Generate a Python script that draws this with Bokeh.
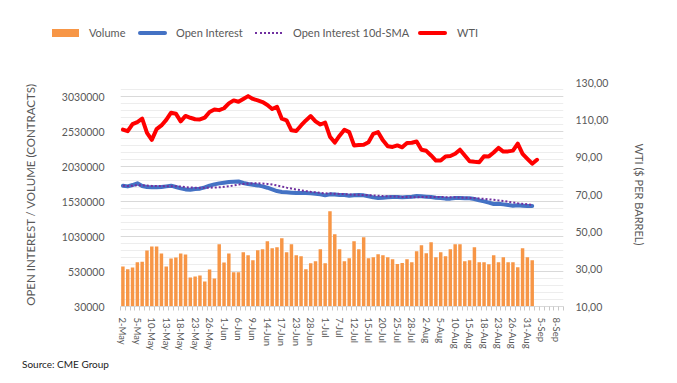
import pandas as pd
from bokeh.plotting import figure
from bokeh.layouts import column
from bokeh.models import (Range1d, LinearAxis, FixedTicker, NumeralTickFormatter,
                          ColumnDataSource, Div)
from bokeh.embed import file_html
from bokeh.resources import INLINE

# ---------------- data ----------------
days = pd.bdate_range("2022-05-02", "2022-09-09")
days = days.drop(pd.to_datetime(["2022-05-30", "2022-06-20", "2022-07-04"]))
dates = [f"{d.day}-{d.strftime('%b')}" for d in days]

volume = [600000, 562000, 586000, 662000, 671000, 829000, 886000, 886000, 786000, 600000,
          715000, 729000, 786000, 772000, 444000, 458000, 472000, 387000, 558000, 429000,
          919000, 658000, 786000, 519000, 519000, 805000, 762000, 690000, 833000, 847000,
          961000, 862000, 876000, 1004000, 805000, 919000, 762000, 747000, 562000, 648000,
          676000, 847000, 648000, 1389000, 1061000, 847000, 676000, 719000, 961000, 847000,
          1019000, 719000, 733000, 776000, 762000, 733000, 705000, 638000, 652000, 705000,
          662000, 819000, 904000, 790000, 947000, 733000, 805000, 747000, 847000, 919000,
          919000, 676000, 690000, 876000, 662000, 662000, 633000, 762000, 662000, 733000,
          662000, 662000, 591000, 862000, 733000, 690000]

open_interest = [1756000, 1746000, 1765000, 1789000, 1751000, 1737000, 1732000, 1732000, 1737000, 1746000,
                 1756000, 1737000, 1718000, 1703000, 1699000, 1708000, 1713000, 1732000, 1756000, 1775000,
                 1789000, 1799000, 1808000, 1813000, 1817000, 1794000, 1779000, 1770000, 1760000, 1746000,
                 1727000, 1703000, 1679000, 1665000, 1661000, 1656000, 1651000, 1651000, 1651000, 1646000,
                 1642000, 1632000, 1618000, 1632000, 1630000, 1622000, 1622000, 1613000, 1618000, 1622000,
                 1618000, 1604000, 1589000, 1580000, 1585000, 1589000, 1594000, 1594000, 1589000, 1594000,
                 1599000, 1608000, 1604000, 1599000, 1594000, 1585000, 1580000, 1571000, 1571000, 1580000,
                 1580000, 1578000, 1575000, 1565000, 1546000, 1532000, 1514000, 1494000, 1499000, 1489000,
                 1480000, 1470000, 1475000, 1470000, 1465000, 1465000]

oi_sma10 = [1756000, 1751000, 1756000, 1764000, 1761000, 1757000, 1753000, 1751000, 1750000, 1749000,
            1749000, 1748000, 1744000, 1735000, 1730000, 1727000, 1725000, 1725000, 1727000, 1730000,
            1733000, 1739000, 1748000, 1759000, 1771000, 1780000, 1786000, 1790000, 1790000, 1788000,
            1781000, 1772000, 1759000, 1744000, 1728000, 1715000, 1702000, 1690000, 1679000, 1669000,
            1661000, 1653000, 1647000, 1644000, 1641000, 1638000, 1635000, 1631000, 1628000, 1625000,
            1623000, 1620000, 1617000, 1612000, 1607000, 1604000, 1601000, 1599000, 1596000, 1594000,
            1592000, 1592000, 1594000, 1596000, 1596000, 1596000, 1595000, 1592000, 1591000, 1589000,
            1587000, 1584000, 1581000, 1578000, 1573000, 1568000, 1561000, 1554000, 1546000, 1537000,
            1527000, 1516000, 1506000, 1497000, 1489000, 1482000]

wti = [104.8, 103.9, 107.7, 108.8, 110.6, 103.0, 99.3, 105.0, 107.0, 110.0,
       113.8, 113.3, 109.2, 112.1, 111.1, 110.3, 110.2, 111.2, 114.2, 115.5,
       115.2, 116.2, 118.8, 120.4, 119.7, 121.2, 122.7, 121.2, 120.4, 119.5,
       118.0, 115.8, 117.0, 110.6, 109.7, 104.4, 104.0, 107.0, 109.7, 112.0,
       109.2, 107.5, 108.5, 101.0, 97.8, 101.5, 104.7, 103.4, 96.3, 96.5,
       96.6, 98.0, 102.5, 103.4, 99.0, 95.8, 95.5, 96.3, 95.3, 97.6,
       97.7, 98.4, 94.0, 93.4, 90.9, 88.2, 88.2, 90.4, 90.6, 91.8,
       94.0, 90.9, 87.8, 87.5, 87.3, 90.5, 90.4, 92.5, 95.0, 93.0,
       93.1, 93.5, 97.2, 91.8, 89.1, 86.5, 88.6]

left_ticks = [30000, 530000, 1030000, 1530000, 2030000, 2530000, 3030000]
left_minor = list(range(30000, 3230001, 100000))
right_ticks = [10, 30, 50, 70, 90, 110, 130]
x_tick_idx = list(range(0, len(dates), 3))

series_names = ["Volume", "Open Interest", "Open Interest 10d-SMA", "WTI"]

# ---------------- styles ----------------
FONT = "Lato"
GRAY = "#595959"
C_VOL, C_OI, C_SMA, C_WTI = "#F79646", "#4472C4", "#7030A0", "#FF0000"

# ---------------- legend strip (HTML) ----------------
swatch_css = [
    f"left:52px;top:29px;width:27px;height:8px;background:{C_VOL};",
    f"left:138px;top:31px;width:29px;height:4px;border-radius:2px;background:{C_OI};",
    f"left:255px;top:32px;width:27px;height:0;border-top:2px dotted {C_SMA};",
    f"left:418px;top:31px;width:29px;height:4px;border-radius:2px;background:{C_WTI};",
]
label_left = [89, 176, 293, 457]
parts = []
for name, sw, lx in zip(series_names, swatch_css, label_left):
    parts.append(f'<span style="position:absolute;{sw}"></span>')
    parts.append(f'<span style="position:absolute;left:{lx}px;top:26px;line-height:14px;'
                 f'white-space:nowrap;">{name}</span>')
legend_html = ('<div style="position:relative;width:677px;height:50px;font-family:Lato;'
               f'font-size:11px;color:{GRAY};">' + "".join(parts) + "</div>")
hdr = Div(text=legend_html, width=677, height=50, margin=(0, 0, 0, 0))

# ---------------- main chart ----------------
p = figure(width=677, height=306, output_backend="svg", toolbar_location=None,
           x_range=Range1d(-0.5, len(dates) - 0.5), y_range=Range1d(30000, 3230000),
           min_border_left=120, min_border_right=114, min_border_top=32, min_border_bottom=50)
p.outline_line_color = None
p.extra_y_ranges = {"wti": Range1d(10, 130)}

src_oi = ColumnDataSource(dict(x=list(range(len(volume))), volume=volume,
                               oi=open_interest, sma=oi_sma10))
src_wti = ColumnDataSource(dict(x=list(range(len(wti))), wti=wti))

p.vbar(x="x", top="volume", bottom=30000, width=0.72, source=src_oi,
       fill_color=C_VOL, line_color=None)
p.line("x", "oi", source=src_oi, line_color=C_OI, line_width=4,
       line_join="round", line_cap="round")
p.line("x", "sma", source=src_oi, line_color=C_SMA, line_width=2, line_dash="2 2")
p.line("x", "wti", source=src_wti, y_range_name="wti", line_color=C_WTI,
       line_width=4, line_join="round", line_cap="round")

yt = FixedTicker(ticks=left_ticks, minor_ticks=left_minor)
p.yaxis.ticker = yt
p.ygrid.ticker = yt
p.yaxis.formatter = NumeralTickFormatter(format="0")
p.ygrid.grid_line_color = "#D9D9D9"
p.ygrid.minor_grid_line_color = "#EDEDED"
p.xgrid.grid_line_color = None

la = p.yaxis[0]
la.axis_label = "OPEN INTEREST / VOLUME (CONTRACTS)"
la.axis_label_standoff = 22
la.axis_label_text_font_size = "11.5px"

ra = LinearAxis(y_range_name="wti", ticker=FixedTicker(ticks=right_ticks),
                major_label_overrides={t: f"{t},00" for t in right_ticks})
ra.axis_label = "WTI ($ PER BARREL)"
ra.axis_label_standoff = 22
ra.axis_label_text_font_size = "11px"
p.add_layout(ra, "right")

for ax in (la, ra):
    ax.axis_line_color = None
    ax.major_tick_line_color = None
    ax.minor_tick_line_color = None
    ax.major_tick_out = 0
    ax.major_tick_in = 0
    ax.major_label_text_font = FONT
    ax.major_label_text_font_size = "10.5px"
    ax.major_label_text_color = GRAY
    ax.major_label_standoff = 12
    ax.axis_label_text_font = FONT
    ax.axis_label_text_font_style = "normal"
    ax.axis_label_text_color = GRAY

xa = p.xaxis[0]
xa.ticker = FixedTicker(ticks=x_tick_idx, minor_ticks=[i - 0.5 for i in range(len(dates) + 1)])
xa.major_label_overrides = {i: dates[i] for i in x_tick_idx}
xa.major_label_orientation = "vertical"
xa.axis_line_color = "#D9D9D9"
xa.major_tick_line_color = None
xa.major_tick_out = 0
xa.major_tick_in = 0
xa.minor_tick_line_color = "#C8C8C8"
xa.minor_tick_in = 0
xa.minor_tick_out = 4
xa.major_label_text_font = FONT
xa.major_label_text_font_size = "9.5px"
xa.major_label_text_color = GRAY
xa.major_label_standoff = 7

# ---------------- source note ----------------
note = Div(text="Source: CME Group", width=677, height=16, margin=(0, 0, 0, 0),
           styles={"font-family": "Lato", "font-size": "10px", "color": "#222222",
                   "padding-left": "22px", "line-height": "16px"})

layout = column(hdr, p, note, spacing=0)
open("out.html", "w").write(file_html(layout, INLINE))
